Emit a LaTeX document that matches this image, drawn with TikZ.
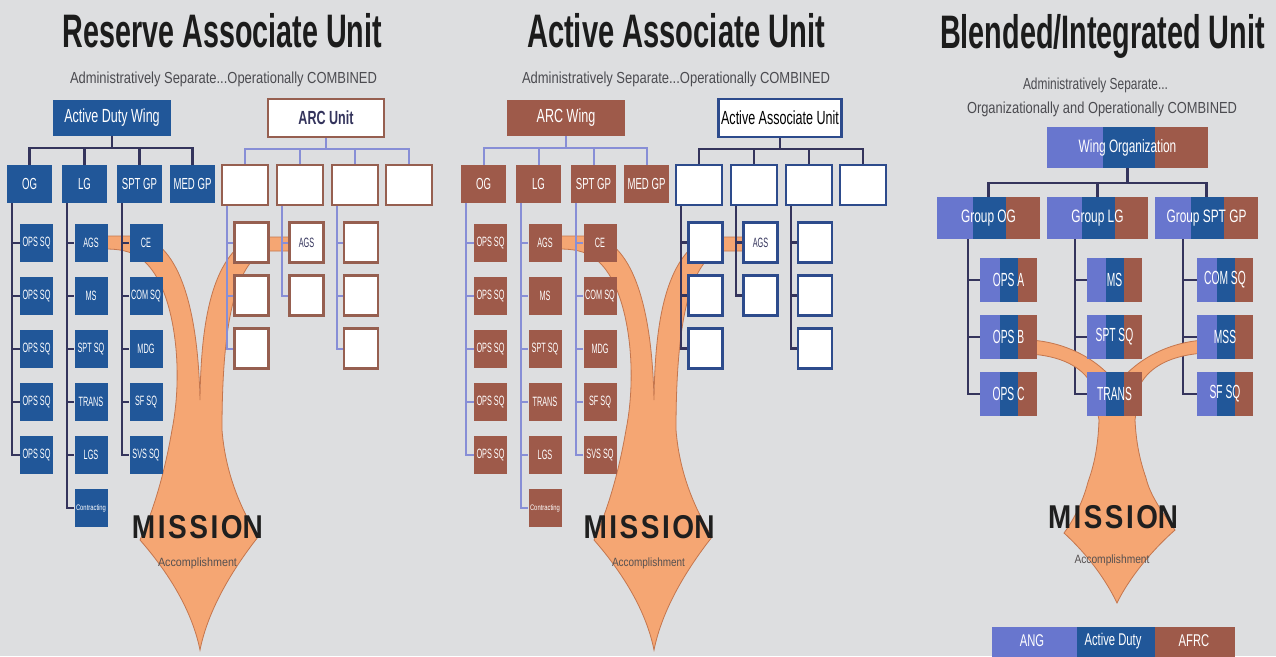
\documentclass[tikz,border=0pt]{standalone}
\usepackage{fontspec}
\setmainfont{Liberation Sans}
\newfontfamily\cnd[FakeStretch=0.66]{Liberation Sans}
\newfontfamily\mcnd[FakeStretch=0.6]{Liberation Sans}
\newfontfamily\ncnd[FakeStretch=0.54]{Liberation Sans}
\usetikzlibrary{calc}
\pgfdeclarelayer{bgl}
\pgfdeclarelayer{orl}
\pgfdeclarelayer{lnl}
\pgfdeclarelayer{orr}
\pgfsetlayers{bgl,orl,lnl,orr,main}
\definecolor{bgc}{RGB}{221,222,224}
\definecolor{adblue}{RGB}{33,87,153}
\definecolor{brn}{RGB}{158,90,74}
\definecolor{ltb}{RGB}{104,118,206}
\definecolor{org}{RGB}{245,166,115}
\definecolor{orgd}{RGB}{196,118,78}
\definecolor{navy}{RGB}{52,52,92}
\definecolor{lavl}{RGB}{135,142,214}
\definecolor{wbord}{RGB}{150,95,80}
\definecolor{nbord}{RGB}{45,75,140}
\definecolor{ttl}{RGB}{28,28,28}
\definecolor{subc}{RGB}{75,75,80}
\definecolor{accc}{RGB}{85,80,80}
\newcommand\fw[2]{\resizebox{#1}{\height}{#2}}
\tikzset{
 obox/.style={rectangle, inner sep=0pt, align=center, font=\ncnd\fontsize{13.5}{13.5}\selectfont},
 adb/.style={obox, fill=adblue, text=white},
 brb/.style={obox, fill=brn, text=white},
 wbr/.style={obox, fill=white, draw=wbord, line width=2.2pt, text=navy},
 wnv/.style={obox, fill=white, draw=nbord, line width=2.2pt, text=navy},
 nvl/.style={draw=navy, line width=2.4pt},
 lvl/.style={draw=lavl, line width=2pt},
 topb/.style={minimum width=45, minimum height=38, font=\mcnd\fontsize{16}{16}\selectfont},
 wtop/.style={minimum width=46, minimum height=40},
 sbox/.style={minimum width=33, minimum height=38},
 wsb/.style={minimum width=34, minimum height=40},
 orng/.style={fill=org, draw=orgd, line width=0.8pt},
 tri/.style={obox, text=white, path picture={%
   \fill[ltb] (path picture bounding box.south west) rectangle (path picture bounding box.north east);
   \fill[adblue] ($(path picture bounding box.south west)!0.35!(path picture bounding box.south east)$) rectangle ($(path picture bounding box.north west)!0.67!(path picture bounding box.north east)$);
   \fill[brn] ($(path picture bounding box.south west)!0.67!(path picture bounding box.south east)$) rectangle (path picture bounding box.north east);
 }},
 ttlnode/.style={anchor=base, text=ttl, inner sep=0pt},
 subnode/.style={anchor=base, text=subc, inner sep=0pt},
 misnode/.style={anchor=base, text=black!88, inner sep=0pt},
 accnode/.style={anchor=base, text=accc, inner sep=0pt},
}
% #1 prefix, #2 filled box style, #3 left line style, #4 white box style, #5 right line style, #6 wing text, #7 assoc text, #8 assoc width
\newcommand\orgpanel[8]{%
 \node[#2, minimum width=118, minimum height=36, font=\cnd\fontsize{19}{19}\selectfont] (#1wing) at (112,118) {#6};
 \node[#4, minimum width=#8, minimum height=38, font=\cnd\fontsize{19}{19}\selectfont] (#1assoc) at (326,118) {#7};
 \node[#2,topb] (#1og) at (29.5,184) {OG};
 \node[#2,topb] (#1lg) at (84.5,184) {LG};
 \node[#2,topb] (#1sp) at (139.5,184) {SPT GP};
 \node[#2,topb] (#1md) at (192.5,184) {MED GP};
 \begin{pgfonlayer}{lnl}
 \foreach \c in {og,lg,sp,md}{\draw[#3] (#1wing.south) -- ++(0,12) -| (#1\c.north);}
 \end{pgfonlayer}
 \foreach \t [count=\i] in {OPS SQ,OPS SQ,OPS SQ,OPS SQ,OPS SQ}{%
   \node[#2,sbox] (#1o\i) at (36.5,{243+53*(\i-1)}) {\t};
   \begin{pgfonlayer}{lnl}\draw[#3] ($(#1og.south west)+(5,0)$) |- (#1o\i.west);\end{pgfonlayer}}
 \foreach \t [count=\i] in {AGS,MS,SPT SQ,TRANS,LGS}{%
   \node[#2,sbox] (#1l\i) at (91,{243+53*(\i-1)}) {\t};
   \begin{pgfonlayer}{lnl}\draw[#3] ($(#1lg.south west)+(5,0)$) |- (#1l\i.west);\end{pgfonlayer}}
 \node[#2,sbox] (#1l6) at (91,508) {\fw{30pt}{\fontsize{8}{8}\selectfont Contracting}};
 \begin{pgfonlayer}{lnl}\draw[#3] ($(#1lg.south west)+(5,0)$) |- (#1l6.west);\end{pgfonlayer}
 \foreach \t [count=\i] in {CE,COM SQ,MDG,SF SQ,SVS SQ}{%
   \node[#2,sbox] (#1s\i) at (146,{243+53*(\i-1)}) {\t};
   \begin{pgfonlayer}{lnl}\draw[#3] ($(#1sp.south west)+(5,0)$) |- (#1s\i.west);\end{pgfonlayer}}
 \node[#4,wtop] (#1a1) at (245,185) {};
 \node[#4,wtop] (#1a2) at (300,185) {};
 \node[#4,wtop] (#1a3) at (355,185) {};
 \node[#4,wtop] (#1a4) at (409,185) {};
 \begin{pgfonlayer}{lnl}
 \foreach \c in {a1,a2,a3,a4}{\draw[#5] (#1assoc.south) -- ++(0,11) -| (#1\c.north);}
 \end{pgfonlayer}
 \foreach \i in {1,2,3}{%
   \node[#4,wsb] (#1b\i) at (251.5,{242.5+53*(\i-1)}) {};
   \begin{pgfonlayer}{lnl}\draw[#5] ($(#1a1.south west)+(6,0)$) |- (#1b\i.west);\end{pgfonlayer}}
 \node[#4,wsb] (#1c1) at (306.5,242.5) {AGS};
 \node[#4,wsb] (#1c2) at (306.5,295.5) {};
 \begin{pgfonlayer}{lnl}
 \draw[#5] ($(#1a2.south west)+(6,0)$) |- (#1c1.west);
 \draw[#5] ($(#1a2.south west)+(6,0)$) |- (#1c2.west);
 \end{pgfonlayer}
 \foreach \i in {1,2,3}{%
   \node[#4,wsb] (#1d\i) at (361,{242.5+53*(\i-1)}) {};
   \begin{pgfonlayer}{lnl}\draw[#5] ($(#1a3.south west)+(6,0)$) |- (#1d\i.west);\end{pgfonlayer}}
}
\newcommand\orangeL{%
 \path[orng] (105,236) -- (140,236) .. controls (180,245) and (198,310) .. (200,400)
  .. controls (201,320) and (212,258) .. (252,237) -- (292,237) -- (292,251) -- (264,251)
  .. controls (236,266) and (222,320) .. (222,430)
  .. controls (226,480) and (245,515) .. (258,537)
  .. controls (232,570) and (208,610) .. (200,650)
  .. controls (192,610) and (168,572) .. (140,540)
  .. controls (156,505) and (166,465) .. (172,430)
  .. controls (184,370) and (175,290) .. (145,262)
  .. controls (135,253) and (125,249) .. (105,249) -- cycle;}
\newcommand\mission{\fontsize{33}{33}\selectfont\bfseries\addfontfeature{LetterSpace=9}MISSIO\addfontfeature{LetterSpace=0}N}
\begin{document}
\begin{tikzpicture}[x=1pt,y=-1pt]
\begin{pgfonlayer}{bgl}
\fill[bgc] (0,0) rectangle (1276,656);
\end{pgfonlayer}
\useasboundingbox (0,0) rectangle (1276,656);
% titles
\node[ttlnode] (t1) at (222.5,47) {\fw{319pt}{\fontsize{47}{47}\selectfont\bfseries Reserve Associate Unit}};
\node[ttlnode] (t2) at (676,47) {\fw{298pt}{\fontsize{47}{47}\selectfont\bfseries Active Associate Unit}};
\node[ttlnode] (t3) at (1102.5,48) {\fw{325pt}{\fontsize{47}{47}\selectfont\bfseries Blended/Integrated Unit}};
\node[subnode] (s1) at (223.5,83) {\fw{307pt}{\fontsize{16}{16}\selectfont Administratively Separate...Operationally COMBINED}};
\node[subnode] (s2) at (676,83) {\fw{308pt}{\fontsize{16}{16}\selectfont Administratively Separate...Operationally COMBINED}};
\node[subnode] (s3) at (1095.5,89) {\fw{145pt}{\fontsize{16}{16}\selectfont Administratively Separate...}};
\node[subnode] (s4) at (1102,113) {\fw{270pt}{\fontsize{16}{16}\selectfont Organizationally and Operationally COMBINED}};
% orange flows
\begin{pgfonlayer}{orl}
\orangeL
\begin{scope}[xshift=454pt]\orangeL\end{scope}
\end{pgfonlayer}
\begin{pgfonlayer}{orr}
\path[orng] (1030,354) .. controls (1060,356) and (1082,366) .. (1092,385) -- (1099,420)
  .. controls (1098,450) and (1093,468) .. (1088,482)
  .. controls (1082,505) and (1072,522) .. (1064,533)
  .. controls (1088,555) and (1106,580) .. (1117,603)
  .. controls (1128,580) and (1150,552) .. (1175,530)
  .. controls (1162,512) and (1150,495) .. (1146,478)
  .. controls (1139,458) and (1136,440) .. (1135,420) -- (1140,385)
  .. controls (1150,366) and (1172,355) .. (1205,353) -- (1205,340)
  .. controls (1168,342) and (1135,360) .. (1117,385)
  .. controls (1100,360) and (1066,342) .. (1030,340) -- cycle;
\end{pgfonlayer}
% left and middle panels
\orgpanel{L}{adb}{nvl}{wbr}{lvl}{Active Duty Wing}{\bfseries ARC Unit}{116}
\begin{scope}[xshift=454pt]
\orgpanel{M}{brb}{lvl}{wnv}{nvl}{ARC Wing}{\textcolor{black}{Active Associate Unit}}{123}
\end{scope}
% right panel
\node[tri, minimum width=161, minimum height=41, font=\cnd\fontsize{18}{18}\selectfont] (wing) at (1127.5,147.5) {Wing Organization};
\node[tri, minimum width=103, minimum height=42, font=\cnd\fontsize{18}{18}\selectfont] (gog) at (988.5,218) {Group OG};
\node[tri, minimum width=101, minimum height=42, font=\cnd\fontsize{18}{18}\selectfont] (glg) at (1097.5,218) {Group LG};
\node[tri, minimum width=103, minimum height=42, font=\cnd\fontsize{18}{18}\selectfont] (gsp) at (1206.5,218) {Group SPT GP};
\begin{pgfonlayer}{lnl}
\foreach \c in {gog,glg,gsp}{\draw[nvl] (wing.south) -- ++(0,15) -| (\c.north);}
\end{pgfonlayer}
\foreach \t [count=\i] in {OPS A,OPS B,OPS C}{%
  \node[tri, minimum width=57, minimum height=44, font=\ncnd\fontsize{19}{19}\selectfont] (ro\i) at (1008.5,{280+57*(\i-1)}) {\t};
  \begin{pgfonlayer}{lnl}\draw[nvl] ($(gog.south west)+(31,0)$) |- (ro\i.west);\end{pgfonlayer}}
\foreach \t [count=\i] in {MS,SPT SQ,TRANS}{%
  \node[tri, minimum width=55, minimum height=44, font=\ncnd\fontsize{19}{19}\selectfont] (rl\i) at (1114.5,{280+57*(\i-1)}) {\t};
  \begin{pgfonlayer}{lnl}\draw[nvl] ($(glg.south west)+(28,0)$) |- (rl\i.west);\end{pgfonlayer}}
\foreach \t [count=\i] in {COM SQ,MSS,SF SQ}{%
  \node[tri, minimum width=56, minimum height=44, font=\ncnd\fontsize{19}{19}\selectfont] (rs\i) at (1225,{280+57*(\i-1)}) {\t};
  \begin{pgfonlayer}{lnl}\draw[nvl] ($(gsp.south west)+(28,0)$) |- (rs\i.west);\end{pgfonlayer}}
% mission texts
\node[misnode] (m1) at (197.5,538) {\fw{131pt}{\mission}};
\node[misnode] (m2) at (649,538) {\fw{131pt}{\mission}};
\node[misnode] (m3) at (1113,528) {\fw{130pt}{\mission}};
\node[accnode] (ac1) at (197.5,566) {\fw{79pt}{\fontsize{12}{12}\selectfont Accomplishment}};
\node[accnode] (ac2) at (648.5,566) {\fw{73pt}{\fontsize{12}{12}\selectfont Accomplishment}};
\node[accnode] (ac3) at (1112,563) {\fw{75pt}{\fontsize{12}{12}\selectfont Accomplishment}};
% legend
\node[tri, minimum width=243, minimum height=34] (leg) at (1113.5,644) {};
\node[text=white, font=\cnd\fontsize{17}{17}\selectfont, inner sep=0pt] (lg1) at (1032,641) {ANG};
\node[text=white, font=\cnd\fontsize{17}{17}\selectfont, inner sep=0pt] (lg2) at (1113,641) {Active Duty};
\node[text=white, font=\cnd\fontsize{17}{17}\selectfont, inner sep=0pt] (lg3) at (1194,641) {AFRC};
\end{tikzpicture}
\end{document}
